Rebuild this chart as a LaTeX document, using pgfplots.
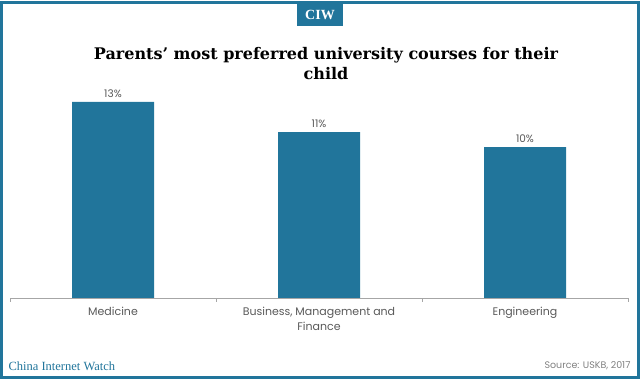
\documentclass[border=0pt]{standalone}
\usepackage{pgfplots}
\pgfplotsset{compat=1.18}
\usepackage{fontspec}
\setmainfont{Liberation Serif}
\newfontfamily\titlefont{DejaVu Serif}
\newfontfamily\labfont{Poppins}
\definecolor{ciwblue}{RGB}{33,117,155}
\definecolor{labgray}{RGB}{89,89,89}
\begin{document}
\begin{tikzpicture}[x=1pt,y=1pt]
\path[use as bounding box] (0,0) rectangle (640,379);
\draw[ciwblue,line width=3pt] (1.5,1.5) rectangle (638.5,376.5);
% CIW box
\fill[ciwblue] (297,353) rectangle (343,375);
\node[text=white,font=\bfseries\fontsize{14}{16}\selectfont] at (320,364) {CIW};
% title
\node[align=center,font=\titlefont\bfseries\fontsize{16}{20}\selectfont] at (326,315) {Parents’ most preferred university courses for their\\child};
\begin{axis}[
  at={(10pt,81pt)}, anchor=south west,
  scale only axis, width=618pt, height=196pt,
  xmin=-0.5, xmax=2.5, ymin=0, ymax=13,
  axis y line=none,
  axis x line=bottom,
  axis line style={-,draw=gray!70,line width=0.8pt},
  xtick={0,1,2},
  xticklabels={Medicine,{Business, Management and\\Finance},Engineering},
  major tick length=0pt,
  extra x ticks={-0.5,0.5,1.5,2.5},
  extra x tick labels={},
  extra x tick style={major tick length=4pt, tick style={draw=gray!70,line width=0.8pt}, xtick align=outside},
  xticklabel style={align=center,font=\labfont\fontsize{11}{15}\selectfont,text=labgray,yshift=-6pt},
  /pgf/number format/assume math mode=true,
  ybar, bar width=82pt,
  nodes near coords={\pgfmathprintnumber{\pgfplotspointmeta}\%},
  nodes near coords style={font=\labfont\fontsize{10.5}{12}\selectfont,text=labgray,yshift=1pt},
  clip=false,
]
\addplot[fill=ciwblue,draw=none] coordinates {(0,13) (1,11) (2,10)};
\end{axis}
\node[anchor=west,text=ciwblue,font=\fontsize{12.5}{14}\selectfont] at (5,13) {China Internet Watch};
\node[anchor=east,text=gray,font=\labfont\fontsize{9.5}{11}\selectfont] at (634,13) {Source: USKB, 2017};
\end{tikzpicture}
\end{document}
